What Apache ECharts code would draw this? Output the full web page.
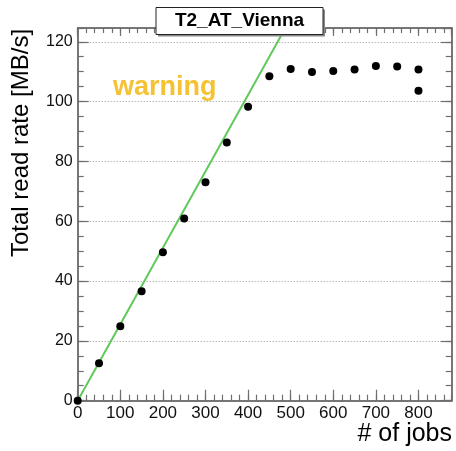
<!DOCTYPE html>
<html>
<head>
<meta charset="utf-8">
<script src="https://cdn.jsdelivr.net/npm/echarts@6/dist/echarts.min.js"></script>
<style>
  html, body { margin: 0; padding: 0; background: #fff; }
  #chart { width: 456px; height: 451px; }
</style>
</head>
<body>
<div id="chart"></div>
<script>
// measured points
var jobs = [0, 50, 100, 150, 200, 250, 300, 350, 400, 450, 500, 550, 600, 650, 700, 750, 800, 800];
var rates = [0, 12.5, 24.9, 36.6, 49.6, 60.9, 73.0, 86.3, 98.3, 108.5, 110.9, 109.9, 110.2, 110.7, 111.9, 111.7, 110.7, 103.6];
// linear fit line endpoints
var fitJobs = [0, 500];
var fitRates = [0, 127.8];

var siteName = 'T2_AT_Vienna';
var statusText = 'warning';
var xTitle = '# of jobs';
var yTitle = 'Total read rate [MB/s]';

var FONT = '"Liberation Sans", Arial, Helvetica, sans-serif';
var AXIS_COLOR = '#6e6e6e';

var points = jobs.map(function (j, i) { return [j, rates[i]]; });
var fitLine = fitJobs.map(function (j, i) { return [j, fitRates[i]]; });

function frameAxis(pos, interval, tickLen, withLabels, max) {
  var ax = {
    type: 'value',
    position: pos,
    min: 0,
    max: max,
    interval: interval,
    axisLine: { show: true, onZero: false, lineStyle: { color: AXIS_COLOR, width: 1.5 } },
    axisTick: { show: true, inside: true, length: tickLen, lineStyle: { color: AXIS_COLOR, width: 1.2 } },
    axisLabel: { show: false },
    splitLine: { show: false }
  };
  if (withLabels) {
    ax.axisLabel = {
      show: true, color: '#111', fontSize: 16, fontFamily: FONT,
      margin: 4, showMaxLabel: false
    };
  }
  return ax;
}

var xMax = 878, yMax = 124.6;
var xAxes = [
  frameAxis('bottom', 100, 11, true, xMax),
  frameAxis('bottom', 20, 6, false, xMax),
  frameAxis('top', 100, 8, false, xMax),
  frameAxis('top', 20, 5, false, xMax)
];
var yAxes = [
  frameAxis('left', 20, 11, true, yMax),
  frameAxis('left', 5, 6, false, yMax),
  frameAxis('right', 20, 11, false, yMax),
  frameAxis('right', 5, 6, false, yMax)
];
xAxes[0].axisLabel.fontSize = 17;
yAxes[0].axisLabel.margin = 5;
yAxes[0].splitLine = {
  show: true, showMinLine: false, showMaxLine: false,
  lineStyle: { color: '#999', type: [1, 2], width: 1 }
};

var chart = echarts.init(document.getElementById('chart'), null, { renderer: 'canvas' });
chart.setOption({
  animation: false,
  backgroundColor: '#fff',
  grid: { left: 77.7, top: 28, right: 4.3, bottom: 50.3, containLabel: false },
  xAxis: xAxes,
  yAxis: yAxes,
  series: [
    {
      type: 'line',
      data: fitLine,
      xAxisIndex: 0, yAxisIndex: 0,
      clip: true,
      symbol: 'none',
      lineStyle: { color: '#5fc95a', width: 2 },
      z: 2
    },
    {
      type: 'scatter',
      data: points,
      xAxisIndex: 0, yAxisIndex: 0,
      symbol: 'circle',
      symbolSize: 8,
      itemStyle: { color: '#000', opacity: 1 },
      clip: false,
      z: 3
    }
  ],
  graphic: [
    {
      type: 'rect', z: 10,
      shape: { x: 158, y: 9.5, width: 167, height: 27 },
      style: { fill: '#8a8a8a' }
    },
    {
      type: 'rect', z: 11,
      shape: { x: 156, y: 7.5, width: 167, height: 27 },
      style: { fill: '#fff', stroke: '#222', lineWidth: 1 }
    },
    {
      type: 'text', z: 12,
      x: 239.5, y: 21,
      style: {
        text: siteName, fill: '#000', fontSize: 19, fontWeight: 'bold', fontFamily: FONT,
        align: 'center', verticalAlign: 'middle'
      }
    },
    {
      type: 'text', z: 12,
      x: 113, y: 88,
      style: {
        text: statusText, fill: '#f4c232', fontSize: 27, fontWeight: 'bold', fontFamily: FONT,
        align: 'left', verticalAlign: 'middle'
      }
    },
    {
      type: 'text', z: 12,
      x: 21, y: 143,
      rotation: Math.PI / 2,
      style: {
        text: yTitle, fill: '#000', fontSize: 24, fontFamily: FONT,
        align: 'center', verticalAlign: 'middle'
      }
    },
    {
      type: 'text', z: 12,
      x: 452, y: 434,
      style: {
        text: xTitle, fill: '#000', fontSize: 25, fontFamily: FONT,
        align: 'right', verticalAlign: 'middle'
      }
    }
  ]
});
</script>
</body>
</html>
